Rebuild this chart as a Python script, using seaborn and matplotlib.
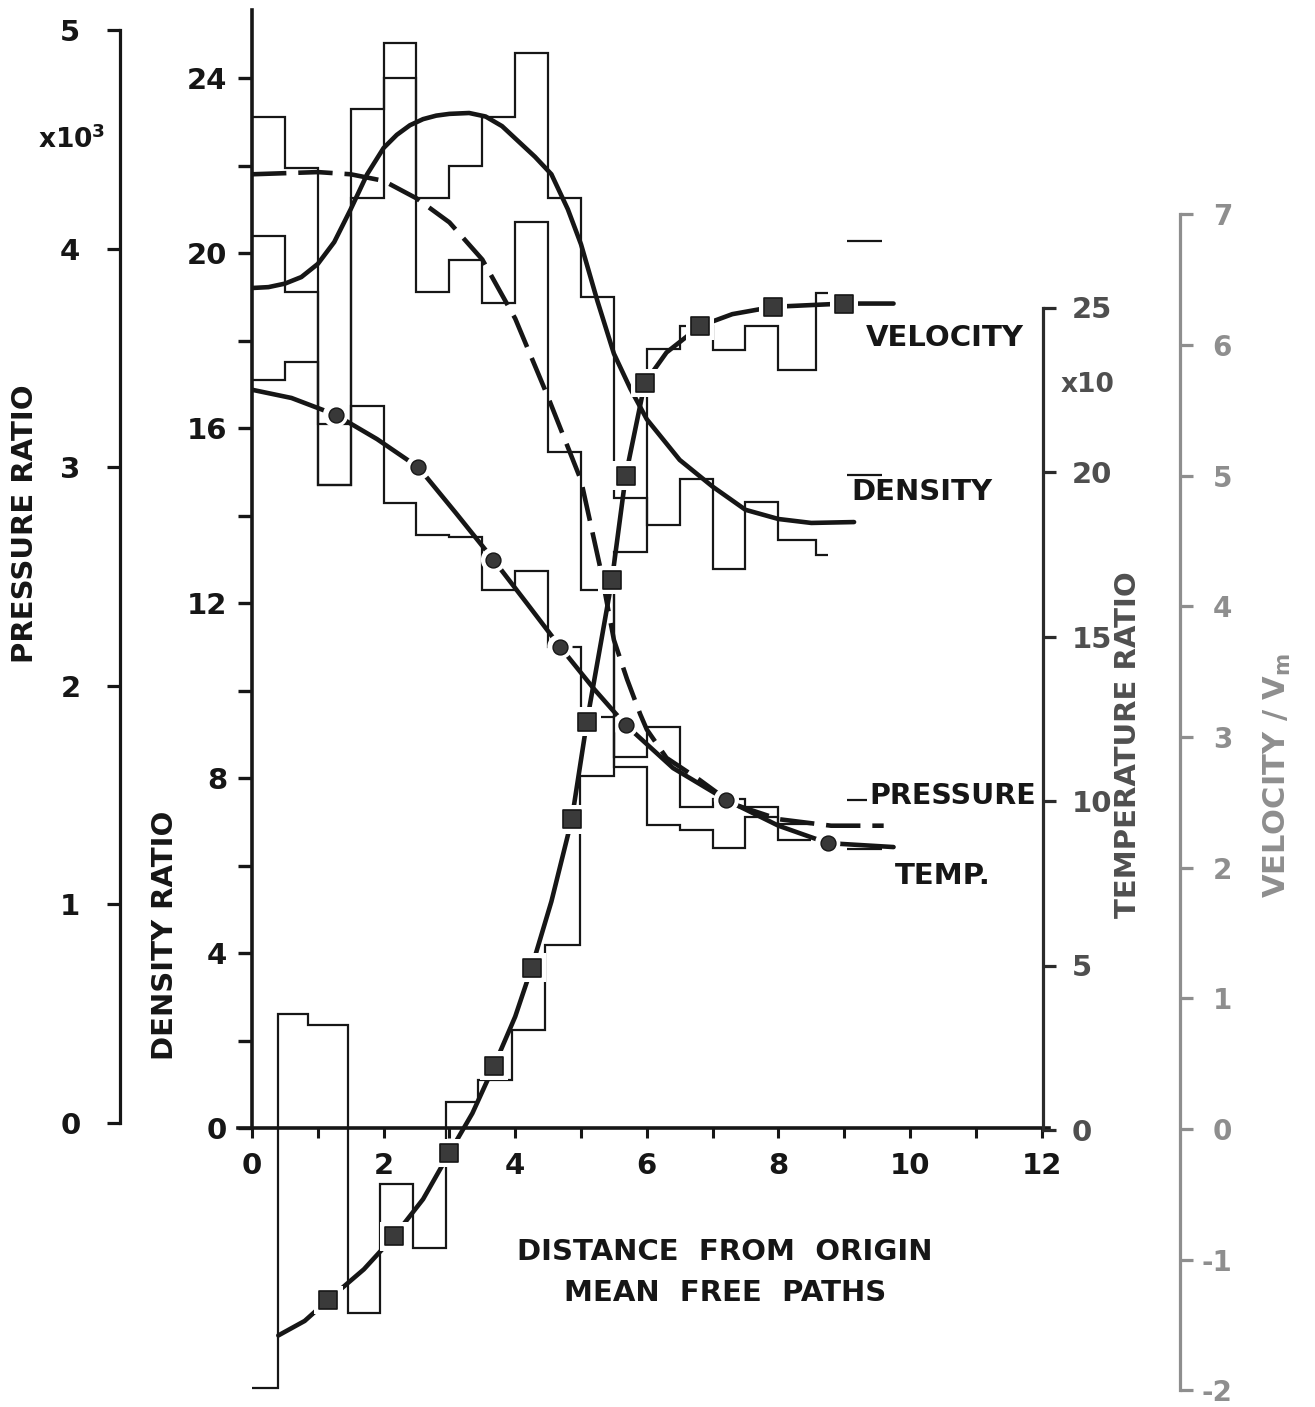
import numpy as np
import matplotlib
matplotlib.use("Agg")
import matplotlib.pyplot as plt
import seaborn as sns
from matplotlib.ticker import FixedLocator, FuncFormatter

sns.set_theme(style="white")
plt.rcParams["font.family"] = ["DejaVu Sans"]
plt.rcParams["font.weight"] = "bold"
plt.rcParams["axes.unicode_minus"] = False

INK = "#161616"
TEMP_INK = "#4f4f4f"
VEL_INK = "#8e8e8e"

# ---------------- sampled cell values (step histograms) ----------------
density_edges = [0.0, 0.5, 1.0, 1.5, 2.0, 2.5, 3.0, 3.5, 4.0, 4.5, 5.0, 5.5,
                 6.0, 6.5, 7.0, 7.5, 8.0, 8.57, 8.75]
density_cells = [20.4, 19.1, 14.7, 23.3, 24.8, 21.25, 22.0, 23.1, 24.57, 21.25,
                 19.0, 14.4, 13.78, 14.83, 12.78, 14.3, 13.45, 13.1]

cell_edges = [0.0, 0.5, 1.0, 1.5, 2.0, 2.5, 3.0, 3.5, 4.0, 4.5, 5.0, 5.5,
              6.0, 6.5, 7.0, 7.5, 8.0, 8.5]
pressure_cells = [4.60, 4.37, 2.92, 4.23, 4.78, 3.80, 3.95, 3.75, 4.12, 3.07,
                  2.44, 1.675, 1.81, 1.446, 1.48, 1.446, 1.37]
temperature_cells = [22.8, 23.33, 21.47, 22.0, 19.05, 18.09, 18.01, 16.41, 17.0,
                     14.69, 12.56, 11.04, 9.27, 9.12, 8.57, 9.51, 8.81]

velocity_edges = [0.0, 0.4, 0.85, 1.46, 1.95, 2.45, 2.95, 3.43, 3.95, 4.45,
                  4.98, 5.5, 6.0, 6.5, 7.0, 7.5, 8.0, 8.57, 8.75]
velocity_cells = [-1.985, 0.881, 0.799, -1.408, -0.421, -0.912, 0.209, 0.374,
                  0.759, 1.407, 2.703, 4.414, 5.973, 6.145, 5.963, 6.145, 5.811,
                  6.398]

# last, detached cell of each quantity
tail_edges = [9.05, 9.58]
pressure_tail_edges = [9.05, 9.35]
density_tail = [14.93]
velocity_tail = [6.793]
pressure_tail = [1.478]
temperature_tail = [8.54]

# ---------------- fitted profiles ----------------
density_x = [0, 0.25, 0.5, 0.75, 1.0, 1.25, 1.5, 1.75, 2.0, 2.2, 2.4, 2.6, 2.8,
             3.0, 3.3, 3.55, 3.8, 4.05, 4.3, 4.55, 4.8, 5.0, 5.25, 5.5, 5.75,
             6.0, 6.5, 7.0, 7.5, 8.0, 8.5, 9.15]
density_y = [19.2, 19.22, 19.3, 19.45, 19.75, 20.25, 21.0, 21.8, 22.4, 22.7,
             22.92, 23.06, 23.14, 23.18, 23.2, 23.12, 22.9, 22.55, 22.2, 21.8,
             21.0, 20.2, 18.9, 17.7, 16.9, 16.2, 15.27, 14.66, 14.13, 13.92,
             13.83, 13.85]

pressure_x = [0, 0.5, 1.0, 1.5, 2.0, 2.5, 3.0, 3.5, 4.0, 4.5, 5.0, 5.3, 5.5,
              5.7, 5.9, 6.0, 6.3, 6.8, 7.3, 8.0, 8.8, 9.6]
pressure_y = [4.34, 4.345, 4.35, 4.34, 4.31, 4.23, 4.12, 3.95, 3.68, 3.32, 2.94,
              2.53, 2.21, 2.03, 1.87, 1.80, 1.67, 1.57, 1.46, 1.39, 1.36, 1.36]

temperature_x = [0, 0.6, 1.27, 1.9, 2.53, 3.1, 3.67, 4.2, 4.68, 5.2, 5.68, 6.4,
                 7.21, 8.0, 8.75, 9.75]
temperature_y = [22.5, 22.25, 21.74, 21.0, 20.14, 18.75, 17.33, 15.95, 14.69,
                 13.4, 12.31, 11.0, 10.03, 9.25, 8.72, 8.6]
temperature_pts_x = [1.27, 2.53, 3.67, 4.68, 5.68, 7.21, 8.75]
temperature_pts_y = [21.74, 20.14, 17.33, 14.69, 12.31, 10.03, 8.72]

velocity_x = [0.4, 0.8, 1.16, 1.7, 2.16, 2.6, 3.0, 3.35, 3.68, 4.0, 4.25, 4.55,
              4.86, 5.09, 5.3, 5.47, 5.68, 5.97, 6.3, 6.81, 7.3, 7.92, 9.0, 9.75]
velocity_y = [-1.580, -1.469, -1.307, -1.074, -0.821, -0.537, -0.183, 0.121,
              0.485, 0.860, 1.235, 1.741, 2.369, 3.118, 3.715, 4.201, 5.001,
              5.710, 5.943, 6.145, 6.236, 6.292, 6.317, 6.317]
velocity_pts_x = [1.16, 2.16, 3.0, 3.68, 4.25, 4.86, 5.09, 5.47, 5.68, 5.97,
                  6.81, 7.92, 9.0]
velocity_pts_y = [-1.307, -0.821, -0.183, 0.485, 1.235, 2.369, 3.118, 4.201,
                  5.001, 5.710, 6.145, 6.292, 6.317]

# axis ticks
distance_ticks = [0, 2, 4, 6, 8, 10, 12]
distance_minor = [1, 3, 5, 7, 9, 11]
density_ticks = [0, 4, 8, 12, 16, 20, 24]
density_minor = [2, 6, 10, 14, 18, 22]
pressure_ticks = [0, 1, 2, 3, 4, 5]
temperature_ticks = [0, 5, 10, 15, 20, 25]
velocity_ticks = [-2, -1, 0, 1, 2, 3, 4, 5, 6, 7]

# ---------------- layout (pixel geometry of the sheet) ----------------
W, H = 1315, 1407
X0, X12 = 252.0, 1041.6
TOP, BOT = 10.0, 1400.0


def fx(px):
    return px / W


def fy(py):
    return 1 - py / H


def axes_frac(px):
    return (px - X0) / (X12 - X0)


fig = plt.figure(figsize=(W / 100, H / 100), dpi=100)
fig.patch.set_facecolor("white")
ax = fig.add_axes([fx(X0), fy(BOT), (X12 - X0) / W, (BOT - TOP) / H])
ax.set_xlim(0, 12)
ax.set_ylim((1128 - BOT) / 43.75, (1128 - TOP) / 43.75)
ax.patch.set_alpha(0)

ax_p = ax.twinx()
ax_t = ax.twinx()
ax_v = ax.twinx()
ax_p.set_ylim((1123 - BOT) / 218.6, (1123 - TOP) / 218.6)
ax_t.set_ylim((1130 - BOT) / 32.9, (1130 - TOP) / 32.9)
ax_v.set_ylim((1129 - BOT) / 130.67, (1129 - TOP) / 130.67)

for a in (ax, ax_p, ax_t, ax_v):
    for s in a.spines.values():
        s.set_visible(False)
    a.grid(False)

# main density axis + distance axis
ax.spines["left"].set_visible(True)
ax.spines["left"].set_bounds(0, (1128 - TOP) / 43.75)
ax.spines["left"].set_linewidth(2.6)
ax.spines["left"].set_color(INK)
ax.spines["bottom"].set_visible(True)
ax.spines["bottom"].set_position(("data", 0))
ax.spines["bottom"].set_bounds(-0.22, 12.12)
ax.spines["bottom"].set_linewidth(2.6)
ax.spines["bottom"].set_color(INK)

ax.xaxis.set_major_locator(FixedLocator(distance_ticks))
ax.xaxis.set_minor_locator(FixedLocator(distance_minor))
ax.xaxis.set_major_formatter(FuncFormatter(lambda v, p: f"{int(round(v))}"))
ax.xaxis.set_ticks_position("bottom")
ax.tick_params(axis="x", which="both", direction="out", length=7.5, width=2.2,
               color=INK, pad=10, labelsize=21, labelcolor=INK,
               bottom=True, labelbottom=True)
ax.yaxis.set_major_locator(FixedLocator(density_ticks))
ax.yaxis.set_minor_locator(FixedLocator(density_minor))
ax.yaxis.set_major_formatter(FuncFormatter(lambda v, p: f"{int(round(v))}"))
ax.yaxis.set_ticks_position("left")
ax.tick_params(axis="y", which="both", direction="out", length=10, width=2.4,
               color=INK, pad=8, labelsize=21, labelcolor=INK)

# pressure axis, far left
ax_p.yaxis.set_ticks_position("left")
ax_p.yaxis.set_label_position("left")
ax_p.spines["left"].set_visible(True)
ax_p.spines["left"].set_position(("axes", axes_frac(120)))
ax_p.spines["left"].set_bounds(0, 5)
ax_p.spines["left"].set_linewidth(2.3)
ax_p.spines["left"].set_color(INK)
ax_p.yaxis.set_major_locator(FixedLocator(pressure_ticks))
ax_p.yaxis.set_major_formatter(FuncFormatter(lambda v, p: f"{int(round(v))}"))
ax_p.tick_params(axis="y", which="both", direction="out", length=9.5, width=2.3,
                 color=INK, pad=19, labelsize=21, labelcolor=INK,
                 left=True, right=False, labelleft=True, labelright=False)

# temperature axis, right edge
ax_t.spines["right"].set_visible(True)
ax_t.spines["right"].set_position(("axes", axes_frac(1043)))
ax_t.spines["right"].set_bounds(0, 25)
ax_t.spines["right"].set_linewidth(2.3)
ax_t.spines["right"].set_color("#2b2b2b")
ax_t.yaxis.set_major_locator(FixedLocator(temperature_ticks))
ax_t.yaxis.set_major_formatter(FuncFormatter(lambda v, p: f"{int(round(v))}"))
ax_t.tick_params(axis="y", which="both", direction="out", length=9.5, width=2.3,
                 color="#2b2b2b", pad=11, labelsize=21, labelcolor=TEMP_INK)

# velocity axis, outer right
ax_v.spines["right"].set_visible(True)
ax_v.spines["right"].set_position(("axes", axes_frac(1180)))
ax_v.spines["right"].set_bounds(-2, 7)
ax_v.spines["right"].set_linewidth(2.3)
ax_v.spines["right"].set_color(VEL_INK)
ax_v.yaxis.set_major_locator(FixedLocator(velocity_ticks))
ax_v.yaxis.set_major_formatter(FuncFormatter(lambda v, p: f"{int(round(v))}"))
ax_v.tick_params(axis="y", which="both", direction="out", length=9.5, width=2.3,
                 color=VEL_INK, pad=28, labelsize=20, labelcolor=VEL_INK)
for lbl in ax_v.get_yticklabels():
    lbl.set_horizontalalignment("right")

# the twin axes share the distance axis; keep their own x ticks hidden
for a in (ax_p, ax_t, ax_v):
    a.tick_params(axis="x", which="both", bottom=False, top=False,
                  labelbottom=False, labeltop=False)

for a in (ax, ax_p, ax_t, ax_v):
    for lbl in a.get_xticklabels() + a.get_yticklabels():
        lbl.set_fontweight("bold")

# ---------------- step histograms ----------------
HIST_LW = 1.6
ax.stairs(density_cells, density_edges, baseline=None, color=INK, lw=HIST_LW, zorder=2)
ax.stairs(density_tail, tail_edges, baseline=None, color=INK, lw=HIST_LW, zorder=2)
ax_p.stairs(pressure_cells, cell_edges, baseline=None, color=INK, lw=HIST_LW, zorder=2)
ax_p.stairs(pressure_tail, pressure_tail_edges, baseline=None, color=INK, lw=HIST_LW, zorder=2)
ax_t.stairs(temperature_cells, cell_edges, baseline=None, color=INK, lw=HIST_LW, zorder=2)
ax_t.stairs(temperature_tail, tail_edges, baseline=None, color=INK, lw=HIST_LW, zorder=2)
ax_v.stairs(velocity_cells, velocity_edges, baseline=None, color=INK, lw=HIST_LW, zorder=2)
ax_v.stairs(velocity_tail, tail_edges, baseline=None, color=INK, lw=HIST_LW, zorder=2)

# ---------------- fitted curves ----------------
CURVE_LW = 3.3
sns.lineplot(x=density_x, y=density_y, ax=ax, color=INK, lw=CURVE_LW,
             sort=False, estimator=None, zorder=3)
sns.lineplot(x=pressure_x, y=pressure_y, ax=ax_p, color=INK, lw=CURVE_LW,
             sort=False, estimator=None, zorder=3)
ax_p.lines[-1].set_dashes((7.5, 2.6))
sns.lineplot(x=temperature_x, y=temperature_y, ax=ax_t, color=INK, lw=CURVE_LW,
             sort=False, estimator=None, zorder=3)
sns.lineplot(x=velocity_x, y=velocity_y, ax=ax_v, color=INK, lw=CURVE_LW,
             sort=False, estimator=None, zorder=3)

# point markers with a white clearance around them
sns.scatterplot(x=temperature_pts_x, y=temperature_pts_y, ax=ax_t, marker="o",
                s=330, color="white", edgecolor="none", linewidth=0, zorder=4)
sns.scatterplot(x=temperature_pts_x, y=temperature_pts_y, ax=ax_t, marker="o",
                s=115, color="#383838", edgecolor=INK, linewidth=1.0, zorder=5)
sns.scatterplot(x=velocity_pts_x, y=velocity_pts_y, ax=ax_v, marker="s",
                s=420, color="white", edgecolor="none", linewidth=0, zorder=4)
sns.scatterplot(x=velocity_pts_x, y=velocity_pts_y, ax=ax_v, marker="s",
                s=150, color="#3a3a3a", edgecolor=INK, linewidth=1.2, zorder=5)

for a in (ax, ax_p, ax_t, ax_v):
    a.set_xlabel("")
    a.set_ylabel("")
    leg = a.get_legend()
    if leg is not None:
        leg.remove()

# ---------------- lettering ----------------
FS = 21
fig.text(fx(25), fy(524), "PRESSURE RATIO", rotation=90, ha="center", va="center",
         fontsize=FS, fontweight="bold", color=INK)
fig.text(fx(72), fy(140), "x10$^{3}$", ha="center", va="center",
         fontsize=19, fontweight="bold", color=INK)
fig.text(fx(165), fy(935), "DENSITY RATIO", rotation=90, ha="center", va="center",
         fontsize=FS, fontweight="bold", color=INK)
fig.text(fx(725), fy(1252), "DISTANCE  FROM  ORIGIN", ha="center", va="center",
         fontsize=FS, fontweight="bold", color=INK)
fig.text(fx(725), fy(1293), "MEAN  FREE  PATHS", ha="center", va="center",
         fontsize=FS, fontweight="bold", color=INK)
fig.text(fx(1128), fy(745), "TEMPERATURE RATIO", rotation=90, ha="center",
         va="center", fontsize=FS, fontweight="bold", color=TEMP_INK)
fig.text(fx(1088), fy(385), "x10", ha="center", va="center",
         fontsize=19, fontweight="bold", color=TEMP_INK)
fig.text(fx(1277), fy(775), "VELOCITY / V$_{\\mathregular{m}}$", rotation=90,
         ha="center", va="center", fontsize=22, fontweight="bold", color=VEL_INK)

fig.text(fx(866), fy(338), "VELOCITY", ha="left", va="center",
         fontsize=FS, fontweight="bold", color=INK)
fig.text(fx(851), fy(492), "DENSITY", ha="left", va="center",
         fontsize=FS, fontweight="bold", color=INK)
fig.text(fx(869), fy(796), "PRESSURE", ha="left", va="center",
         fontsize=20.5, fontweight="bold", color=INK)
fig.text(fx(895), fy(876), "TEMP.", ha="left", va="center",
         fontsize=FS, fontweight="bold", color=INK)

fig.savefig("out.png", dpi=100, facecolor="white")
